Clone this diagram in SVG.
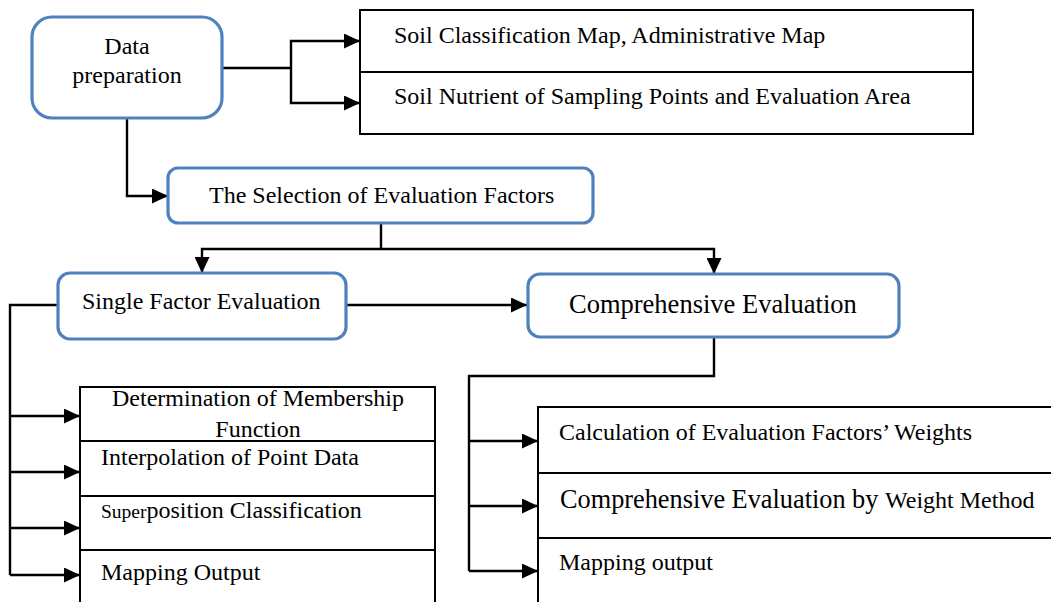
<svg xmlns="http://www.w3.org/2000/svg" width="1051" height="602" viewBox="0 0 1051 602">
<defs>
<marker id="arr" markerWidth="16" markerHeight="15" refX="16" refY="7.5" orient="auto" markerUnits="userSpaceOnUse">
<path d="M0,0 L16,7.5 L0,15 Z" fill="#000"/>
</marker>
<style>
.rb{fill:#fff;stroke:#4F81BD;stroke-width:3.2}
.bx{fill:#fff;stroke:#000;stroke-width:2}
.t{font-family:"Liberation Serif","Times New Roman",serif;font-size:24px;fill:#000}
.c{stroke:#000;stroke-width:2.4;fill:none}
.a{marker-end:url(#arr)}
</style>
</defs>
<rect width="1051" height="602" fill="#fff"/>
<g id="connectors">
<polyline class="c" points="222,68 291,68"/>
<polyline class="c a" points="291,68 291,41 360,41"/>
<polyline class="c a" points="291,68 291,103 360,103"/>
<polyline class="c a" points="127,118 127,196 168,196"/>
<polyline class="c" points="381,223 381,249"/>
<polyline class="c a" points="381,249 202,249 202,273"/>
<polyline class="c a" points="381,249 714,249 714,274"/>
<polyline class="c a" points="346,305 527,305"/>
<polyline class="c" points="58,305 10,305 10,575"/>
<polyline class="c a" points="10,416 80,416"/>
<polyline class="c a" points="10,472 80,472"/>
<polyline class="c a" points="10,528 80,528"/>
<polyline class="c a" points="10,575 80,575"/>
<polyline class="c" points="714,337 714,376 469,376 469,571"/>
<polyline class="c a" points="469,441 538,441"/>
<polyline class="c a" points="469,506 538,506"/>
<polyline class="c a" points="469,571 538,571"/>
</g>
<g id="data-preparation">
<rect class="rb" x="32" y="17" width="190" height="101" rx="20"/>
<text class="t" x="127" y="54" text-anchor="middle">Data</text>
<text class="t" x="127" y="83" text-anchor="middle">preparation</text>
</g>
<g id="soil-classification">
<rect class="bx" x="360" y="10" width="613" height="62"/>
<text class="t" x="394" y="43">Soil Classification Map, Administrative Map</text>
</g>
<g id="soil-nutrient">
<rect class="bx" x="360" y="72" width="613" height="62"/>
<text class="t" x="394" y="104">Soil Nutrient of Sampling Points and Evaluation Area</text>
</g>
<g id="selection">
<rect class="rb" x="168" y="168" width="425" height="55" rx="10"/>
<text class="t" x="209" y="203">The Selection of Evaluation Factors</text>
</g>
<g id="single-factor">
<rect class="rb" x="58" y="273" width="288" height="66" rx="12"/>
<text class="t" x="82" y="309">Single Factor Evaluation</text>
</g>
<g id="comprehensive">
<rect class="rb" x="528" y="274" width="371" height="63" rx="12"/>
<text class="t" x="569" y="313" style="font-size:26.5px">Comprehensive Evaluation</text>
</g>
<g id="membership">
<rect class="bx" x="80" y="387" width="355" height="54"/>
<text class="t" x="258" y="406" text-anchor="middle">Determination of Membership</text>
<text class="t" x="258" y="437" text-anchor="middle">Function</text>
</g>
<g id="interpolation">
<rect class="bx" x="80" y="441" width="355" height="55"/>
<text class="t" x="101" y="465">Interpolation of Point Data</text>
</g>
<g id="superposition">
<rect class="bx" x="80" y="496" width="355" height="54"/>
<text class="t" x="101" y="518"><tspan style="font-size:19.5px">Super</tspan>position Classification</text>
</g>
<g id="mapping-output-left">
<rect class="bx" x="80" y="550" width="355" height="60"/>
<text class="t" x="101" y="580">Mapping Output</text>
</g>
<g id="weights">
<rect class="bx" x="538" y="407" width="525" height="66"/>
<text class="t" x="559" y="440">Calculation of Evaluation Factors’ Weights</text>
</g>
<g id="weight-method">
<rect class="bx" x="538" y="473" width="525" height="65"/>
<text class="t" x="560" y="508"><tspan style="font-size:26.3px">Comprehensive Evaluation by </tspan>Weight Method</text>
</g>
<g id="mapping-output-right">
<rect class="bx" x="538" y="538" width="525" height="72"/>
<text class="t" x="559" y="570">Mapping output</text>
</g>
</svg>
